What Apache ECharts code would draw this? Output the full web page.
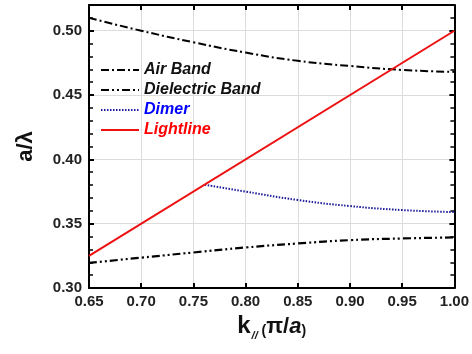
<!DOCTYPE html>
<html><head><meta charset="utf-8">
<script src="https://cdn.jsdelivr.net/npm/echarts@6/dist/echarts.min.js"></script>
<style>html,body{margin:0;padding:0;background:#fff}#c{width:472px;height:354px}</style>
</head><body><div id="c"></div>
<script>
const kAir = [0.65, 0.70, 0.75, 0.80, 0.85, 0.90, 0.95, 1.00];
const airBand = [0.510, 0.500, 0.491, 0.483, 0.4766, 0.4726, 0.4695, 0.468];
const kDiel = [0.65, 0.70, 0.75, 0.80, 0.85, 0.90, 0.95, 1.00];
const dielectricBand = [0.3195, 0.3236, 0.3276, 0.3315, 0.3346, 0.3372, 0.3385, 0.3393];
const kDimer = [0.761, 0.80, 0.85, 0.90, 0.95, 1.00];
const dimer = [0.3803, 0.375, 0.3684, 0.3637, 0.3606, 0.359];
const kLight = [0.65, 1.00];
const lightline = [0.325, 0.500];
const xTicks = [0.65, 0.70, 0.75, 0.80, 0.85, 0.90, 0.95, 1.00];

const zip = (xs, ys) => xs.map((x, i) => [x, ys[i]]);
const font = '"Liberation Sans", Arial, sans-serif';
const chart = echarts.init(document.getElementById('c'));
const axisCommon = {
  axisLine: {show: true, onZero: false, lineStyle: {color: '#000', width: 2}},
  axisTick: {show: true, inside: true, length: 5, lineStyle: {color: '#000', width: 2}},
};
chart.setOption({
  animation: false,
  grid: {left: 89, right: 16, top: 5, bottom: 66, containLabel: false},
  legend: {
    orient: 'vertical', left: 100, top: 62, padding: 0, itemWidth: 38, itemHeight: 14, itemGap: 4,
    itemStyle: {opacity: 0, borderWidth: 0},
    textStyle: {fontFamily: font, fontSize: 16, fontWeight: 'bold', fontStyle: 'italic', color: '#000'},
    data: [
      {name: 'Air Band', textStyle: {color: '#111'}},
      {name: 'Dielectric Band', textStyle: {color: '#111'}},
      {name: 'Dimer', textStyle: {color: '#0000ff'}},
      {name: 'Lightline', textStyle: {color: '#ff0000'}}
    ]
  },
  xAxis: [{
    type: 'value', min: 0.65, max: 1.00, interval: 0.05, position: 'bottom',
    ...axisCommon,
    axisLabel: {fontFamily: font, fontSize: 15, fontWeight: 'bold', color: '#222', margin: 6,
      formatter: v => xTicks.some(t => Math.abs(t - v) < 1e-6) ? v.toFixed(2) : ''},
    splitLine: {show: true, lineStyle: {color: '#dcdcdc', width: 1}},
    name: '{k|k}{s|//}{p| (}{pi|π/}{a|a}{p|)}', nameLocation: 'middle', nameGap: 20,
    nameTextStyle: {
      rich: {
        k: {fontFamily: font, fontSize: 24, fontWeight: 'bold', color: '#111', lineHeight: 28, verticalAlign: 'bottom'},
        s: {fontFamily: font, fontSize: 11, fontWeight: 'bold', fontStyle: 'italic', color: '#111', lineHeight: 28, verticalAlign: 'bottom', padding: [0, 0, -4, 1]},
        p: {fontFamily: font, fontSize: 14, fontWeight: 'bold', color: '#111', lineHeight: 28, verticalAlign: 'bottom'},
        pi: {fontFamily: font, fontSize: 22, fontWeight: 'bold', color: '#111', lineHeight: 28, verticalAlign: 'bottom'},
        a: {fontFamily: font, fontSize: 22, fontWeight: 'bold', fontStyle: 'italic', color: '#111', lineHeight: 28, verticalAlign: 'bottom'}
      }
    }
  }, {
    type: 'value', min: 0.65, max: 1.00, interval: 0.05, position: 'top',
    ...axisCommon, axisLabel: {show: false}, splitLine: {show: false}
  }],
  yAxis: [{
    type: 'value', min: 0.30, max: 0.52, interval: 0.05, position: 'left',
    ...axisCommon,
    minorTick: {show: true, splitNumber: 5, length: 4, lineStyle: {color: '#000', width: 1.5}},
    axisLabel: {fontFamily: font, fontSize: 15, fontWeight: 'bold', color: '#222', margin: 7, showMaxLabel: false,
      formatter: v => (Math.abs(v * 20 - Math.round(v * 20)) < 1e-6) ? v.toFixed(2) : ''},
    splitLine: {show: true, lineStyle: {color: '#dcdcdc', width: 1}},
    name: 'a/λ', nameLocation: 'middle', nameGap: 52,
    nameTextStyle: {fontFamily: font, fontSize: 22, fontWeight: 'bold', color: '#111'}
  }, {
    type: 'value', min: 0.30, max: 0.52, interval: 0.05, position: 'right',
    ...axisCommon,
    minorTick: {show: true, splitNumber: 5, length: 4, lineStyle: {color: '#000', width: 1.5}},
    axisLabel: {show: false}, splitLine: {show: false}
  }],
  series: [
    {name: 'Air Band', type: 'line', data: zip(kAir, airBand), smooth: true, symbol: 'none',
     lineStyle: {color: '#000', width: 2, type: [8, 3, 2, 3]}, itemStyle: {color: '#000'}},
    {name: 'Dielectric Band', type: 'line', data: zip(kDiel, dielectricBand), smooth: true, symbol: 'none',
     lineStyle: {color: '#000', width: 2.2, type: [8, 3, 2, 3, 2, 3]}, itemStyle: {color: '#000'}},
    {name: 'Dimer', type: 'line', data: zip(kDimer, dimer), smooth: true, symbol: 'none',
     lineStyle: {color: '#1c1c99', width: 2, type: [1.5, 1.5]}, itemStyle: {color: '#1c1c99'}},
    {name: 'Lightline', type: 'line', data: zip(kLight, lightline), symbol: 'none',
     lineStyle: {color: '#ee1111', width: 2}, itemStyle: {color: '#ee1111'}}
  ]
});
</script></body></html>
